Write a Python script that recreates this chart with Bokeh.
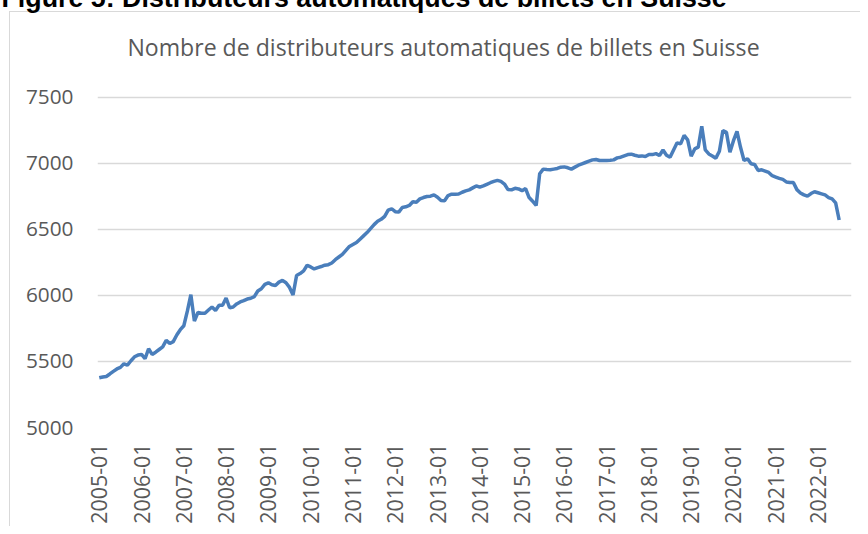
from bokeh.plotting import figure
from bokeh.models import Range1d, FixedTicker, Label, Title, ColumnDataSource
from bokeh.embed import file_html
from bokeh.resources import INLINE
import math

# Monthly number of ATMs in Switzerland, 2005-01 .. 2022-07
values_2005 = [5376, 5382, 5386, 5405, 5425, 5443, 5455, 5482, 5472, 5505, 5535, 5548]
values_2006 = [5553, 5520, 5596, 5553, 5570, 5590, 5610, 5659, 5636, 5650, 5700, 5740]
values_2007 = [5770, 5880, 6005, 5805, 5870, 5865, 5865, 5889, 5912, 5886, 5925, 5925]
values_2008 = [5980, 5906, 5912, 5935, 5950, 5960, 5972, 5978, 5990, 6033, 6050, 6083]
values_2009 = [6095, 6080, 6075, 6100, 6113, 6095, 6060, 6003, 6150, 6165, 6185, 6228]
values_2010 = [6215, 6200, 6210, 6218, 6228, 6232, 6245, 6270, 6290, 6310, 6340, 6370]
values_2011 = [6385, 6400, 6425, 6450, 6475, 6505, 6535, 6560, 6575, 6598, 6645, 6655]
values_2012 = [6633, 6630, 6665, 6670, 6680, 6708, 6705, 6730, 6740, 6748, 6750, 6760]
values_2013 = [6742, 6717, 6715, 6755, 6765, 6765, 6767, 6780, 6790, 6798, 6813, 6828]
values_2014 = [6818, 6828, 6840, 6852, 6862, 6870, 6862, 6842, 6800, 6798, 6810, 6805]
values_2015 = [6792, 6808, 6740, 6712, 6680, 6920, 6955, 6952, 6950, 6955, 6960, 6970]
values_2016 = [6972, 6965, 6955, 6970, 6985, 6995, 7005, 7015, 7025, 7028, 7020, 7020]
values_2017 = [7020, 7022, 7025, 7040, 7045, 7055, 7065, 7068, 7060, 7053, 7055, 7050]
values_2018 = [7065, 7065, 7072, 7058, 7100, 7060, 7045, 7100, 7154, 7146, 7210, 7177]
values_2019 = [7053, 7108, 7121, 7280, 7100, 7070, 7055, 7038, 7090, 7246, 7233, 7083]
values_2020 = [7170, 7241, 7120, 7020, 7033, 6995, 6990, 6945, 6950, 6940, 6930, 6905]
values_2021 = [6895, 6885, 6877, 6858, 6854, 6854, 6800, 6775, 6760, 6750, 6770, 6784]
values_2022 = [6776, 6768, 6760, 6740, 6730, 6700, 6570]

values = (values_2005 + values_2006 + values_2007 + values_2008 + values_2009 + values_2010
          + values_2011 + values_2012 + values_2013 + values_2014 + values_2015 + values_2016
          + values_2017 + values_2018 + values_2019 + values_2020 + values_2021 + values_2022)
months = [f"{2005 + i // 12}-{i % 12 + 1:02d}" for i in range(len(values))]
n_categories = 214  # axis reaches 2022-10

tick_labels = ["2005-01", "2006-01", "2007-01", "2008-01", "2009-01", "2010-01",
               "2011-01", "2012-01", "2013-01", "2014-01", "2015-01", "2016-01",
               "2017-01", "2018-01", "2019-01", "2020-01", "2021-01", "2022-01"]
y_ticks = [5000, 5500, 6000, 6500, 7000, 7500]

chart_title = "Nombre de distributeurs automatiques de billets en Suisse"
figure_title = "Figure 5: Distributeurs automatiques de billets en Suisse"

FONT = "Open Sans"
GREY = "#595959"
BORDER = "#d9d9d9"

# layout (pixels): canvas starts above/left of the window so that the cut-off
# figure caption can be drawn at the very top
SHIFT_X, SHIFT_Y = 8, 24
FRAME_TOP, FRAME_BOTTOM, FRAME_LEFT, FRAME_RIGHT = 12, 429, 97, 851   # window coords
AXIS_PX = 332            # pixels between the 5000 and 7500 grid lines
W, H = 868, 550

y_min, y_axis_top = y_ticks[0], y_ticks[-1]
y_max = y_min + (FRAME_BOTTOM - FRAME_TOP) * (y_axis_top - y_min) / AXIS_PX

src = ColumnDataSource(dict(x=list(range(len(values))), y=values, month=months))

p = figure(width=W, height=H, output_backend="svg", toolbar_location=None,
           x_range=Range1d(-0.5, n_categories - 0.5), y_range=Range1d(y_min, y_max),
           min_border_left=FRAME_LEFT + SHIFT_X, min_border_right=W - SHIFT_X - FRAME_RIGHT,
           min_border_top=FRAME_TOP + SHIFT_Y, min_border_bottom=H - SHIFT_Y - FRAME_BOTTOM)
# the chart's light border (left and top edges; the rest lies outside the window)
p.styles = {
    "margin-top": f"-{SHIFT_Y}px", "margin-left": f"-{SHIFT_X}px",
    "background-color": "white",
    "background-image": f"linear-gradient({BORDER}, {BORDER}), linear-gradient({BORDER}, {BORDER})",
    "background-size": "1px 100%, 100% 1px",
    "background-position": f"{9 + SHIFT_X}px {11 + SHIFT_Y}px, {9 + SHIFT_X}px {11 + SHIFT_Y}px",
    "background-repeat": "no-repeat",
}
p.outline_line_color = None
p.background_fill_color = None
p.border_fill_color = None

p.line("x", "y", source=src, line_color="#4A7EBB", line_width=3.5)

# axes
tick_pos = [months.index(t) for t in tick_labels]
p.xaxis.ticker = FixedTicker(ticks=tick_pos)
p.xaxis.major_label_overrides = {tp: t for tp, t in zip(tick_pos, tick_labels)}
p.xaxis.major_label_orientation = math.pi / 2
p.xaxis.major_label_standoff = 16
p.xaxis.major_label_text_font_size = "21.4px"
p.yaxis.ticker = FixedTicker(ticks=y_ticks)
p.yaxis.major_label_standoff = 24
p.yaxis.major_label_text_font_size = "20.8px"
for ax in (p.xaxis[0], p.yaxis[0]):
    ax.axis_line_color = None
    ax.major_tick_line_color = None
    ax.major_tick_out = 0
    ax.major_tick_in = 0
    ax.minor_tick_line_color = None
    ax.major_label_text_font = FONT
    ax.major_label_text_color = GREY

p.xgrid.grid_line_color = None
p.ygrid.ticker = FixedTicker(ticks=y_ticks)
p.ygrid.grid_line_color = BORDER
p.ygrid.grid_line_width = 1.3

# chart title inside the (extended) frame; screen units: x from frame left, y up from frame bottom
p.add_layout(Label(x=443 - FRAME_LEFT, y=FRAME_BOTTOM - 48, x_units="screen", y_units="screen",
                   text=chart_title, text_align="center", text_baseline="middle",
                   text_font=FONT, text_font_size="23.1px", text_color=GREY))

# figure caption, cut off by the top of the window
p.add_layout(Title(text=figure_title, align="left", offset=1 - FRAME_LEFT, vertical_align="bottom",
                   standoff=0, text_font="Liberation Sans", text_font_style="bold",
                   text_font_size="26.8px", text_color="black"), "above")

open("out.html", "w").write(file_html(p, INLINE))
